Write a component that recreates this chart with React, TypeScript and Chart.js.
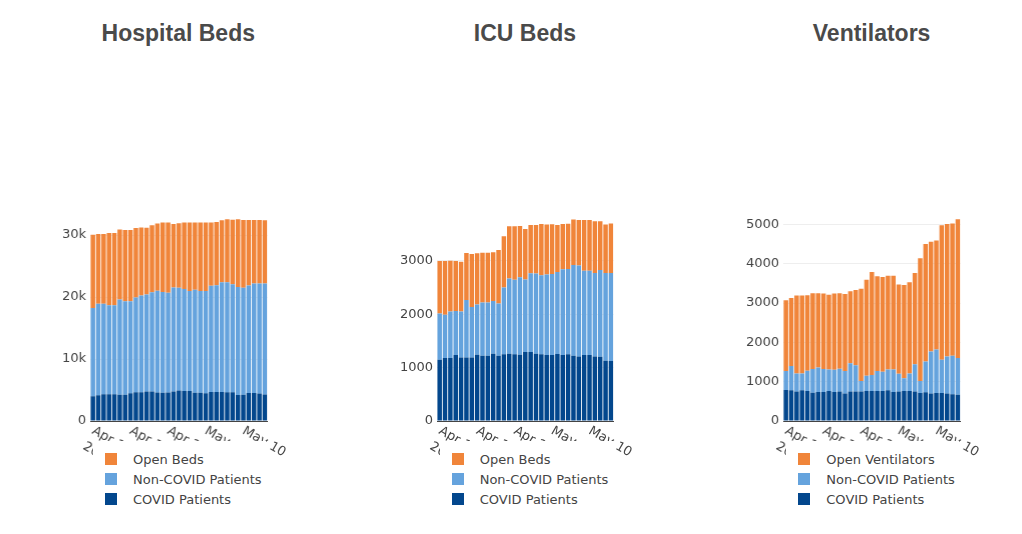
import React, { useEffect, useRef } from "react";
import { Chart, registerables } from "chart.js";

Chart.register(...registerables);

// ---------- data ----------
const dates = [
  "Apr 12", "Apr 13", "Apr 14", "Apr 15", "Apr 16", "Apr 17", "Apr 18", "Apr 19", "Apr 20", "Apr 21", "Apr 22",
  "Apr 23", "Apr 24", "Apr 25", "Apr 26", "Apr 27", "Apr 28", "Apr 29", "Apr 30", "May 1", "May 2", "May 3",
  "May 4", "May 5", "May 6", "May 7", "May 8", "May 9", "May 10", "May 11", "May 12", "May 13", "May 14",
];
const tickDates = ["Apr 12", "Apr 19", "Apr 26", "May 3", "May 10"];
const firstTickYear = "2020";

const hospitalTicks = [0, 10000, 20000, 30000];
const icuTicks = [0, 1000, 2000, 3000];
const ventTicks = [0, 1000, 2000, 3000, 4000, 5000];

const hospitalCovid = [3980, 4140, 4330, 4330, 4330, 4220, 4220, 4480, 4650, 4650, 4760, 4760, 4600, 4560, 4600, 4750, 4920, 4820, 4820, 4570, 4570, 4460, 4680, 4680, 4680, 4620, 4620, 4200, 4250, 4520, 4520, 4430, 4280];
const hospitalNonCovid = [14250, 14760, 14570, 14330, 14330, 15400, 15080, 14820, 15270, 15600, 15640, 16020, 16400, 16240, 16100, 16780, 16560, 16480, 16150, 16610, 16400, 16510, 17120, 17220, 17720, 17780, 17430, 17400, 17230, 17330, 17660, 17750, 17900];
const hospitalOpen = [11820, 11260, 11280, 11660, 11660, 11290, 11510, 11510, 11230, 10950, 10780, 10780, 10860, 11240, 11340, 10270, 10440, 10740, 11070, 10860, 11070, 11070, 10240, 10200, 9970, 10130, 10430, 10930, 10940, 10570, 10240, 10240, 10190];

const icuCovid = [1148, 1180, 1180, 1235, 1190, 1190, 1190, 1240, 1220, 1220, 1260, 1220, 1250, 1260, 1250, 1240, 1290, 1290, 1260, 1250, 1235, 1235, 1255, 1235, 1250, 1220, 1210, 1235, 1235, 1210, 1205, 1130, 1125];
const icuNonCovid = [867, 810, 870, 825, 860, 1075, 945, 940, 1000, 1000, 985, 980, 1250, 1410, 1395, 1450, 1360, 1475, 1500, 1480, 1510, 1520, 1535, 1605, 1595, 1700, 1700, 1580, 1580, 1560, 1625, 1640, 1645];
const icuOpen = [980, 1005, 950, 935, 930, 880, 990, 960, 930, 930, 915, 1000, 960, 975, 1000, 960, 945, 905, 910, 960, 935, 930, 880, 850, 850, 855, 855, 950, 950, 970, 910, 910, 930];

const ventCovid = [790, 780, 750, 780, 760, 720, 740, 740, 760, 740, 750, 700, 750, 750, 750, 760, 760, 760, 760, 780, 740, 750, 760, 760, 750, 710, 730, 700, 710, 710, 700, 680, 670];
const ventNonCovid = [480, 620, 460, 430, 520, 600, 620, 580, 550, 560, 580, 570, 720, 670, 270, 390, 410, 510, 490, 530, 570, 450, 330, 450, 690, 310, 780, 1070, 1110, 850, 940, 980, 930];
const ventOpen = [1800, 1730, 1980, 1980, 1920, 1930, 1890, 1920, 1900, 1940, 1920, 1960, 1830, 1910, 2340, 2440, 2620, 2410, 2410, 2380, 2380, 2270, 2370, 2320, 2320, 3120, 2990, 2790, 2770, 3420, 3370, 3360, 3530];

// ---------- styling ----------
const COLOR_OPEN = "#F0853A";
const COLOR_NONCOVID = "#65A3DD";
const COLOR_COVID = "#03478D";
const TEXT_COLOR = "#444";
const FONT = '"DejaVu Sans", Verdana, sans-serif';

const PLOT_WIDTH = 176.6;
const AXIS_W = 50;
const PAD_RIGHT = 30;
const CANVAS_TOP = 200;
const CANVAS_H = 270;

type PanelProps = {
  title: string;
  openLabel: string;
  covid: number[];
  nonCovid: number[];
  open: number[];
  yMax: number;
  yTicks: number[];
  fmt: (v: number) => string;
  plotLeft: number;
};

const xLabelPlugin = {
  id: "rotatedXLabels",
  afterDraw(chart: any) {
    const xs = chart.scales.x;
    const ctx = chart.ctx;
    ctx.save();
    ctx.font = `13px ${FONT}`;
    ctx.fillStyle = TEXT_COLOR;
    ctx.textAlign = "left";
    ctx.textBaseline = "middle";
    tickDates.forEach((lbl, i) => {
      const idx = dates.indexOf(lbl);
      const x = xs.getPixelForValue(idx);
      const lines = i === 0 ? [lbl, firstTickYear] : [lbl];
      ctx.save();
      ctx.translate(x, chart.chartArea.bottom + 9);
      ctx.rotate(Math.PI / 6);
      lines.forEach((ln, j) => ctx.fillText(ln, 0, j * 18));
      ctx.restore();
    });
    ctx.restore();
  },
};

function Panel(p: PanelProps) {
  const ref = useRef<HTMLCanvasElement | null>(null);
  useEffect(() => {
    if (!ref.current) return;
    const chart = new Chart(ref.current, {
      type: "bar",
      data: {
        labels: dates,
        datasets: [
          { label: "COVID Patients", data: p.covid, backgroundColor: COLOR_COVID, barPercentage: 0.84, categoryPercentage: 1 },
          { label: "Non-COVID Patients", data: p.nonCovid, backgroundColor: COLOR_NONCOVID, barPercentage: 0.84, categoryPercentage: 1 },
          { label: p.openLabel, data: p.open, backgroundColor: COLOR_OPEN, barPercentage: 0.84, categoryPercentage: 1 },
        ],
      },
      options: {
        animation: false,
        responsive: true,
        maintainAspectRatio: false,
        layout: { padding: { top: 9, left: 0, right: PAD_RIGHT, bottom: 0 } },
        plugins: { legend: { display: false }, tooltip: { enabled: false }, title: { display: false } },
        scales: {
          x: {
            stacked: true,
            afterFit: (s: any) => {
              s.height = 49;
              s.paddingLeft = 0;
              s.paddingRight = 0;
            },
            ticks: { display: false },
            grid: { display: false, drawTicks: false },
            border: { display: true, color: "#444", width: 1 },
          },
          y: {
            stacked: true,
            min: 0,
            max: p.yMax,
            afterBuildTicks: (s: any) => {
              s.ticks = p.yTicks.map((v) => ({ value: v }));
            },
            afterFit: (s: any) => {
              s.width = AXIS_W;
              s.paddingTop = 0;
              s.paddingBottom = 0;
            },
            ticks: {
              autoSkip: false,
              padding: 4,
              color: TEXT_COLOR,
              font: { family: FONT, size: 13 },
              callback: (v: any) => p.fmt(Number(v)),
            },
            grid: {
              drawTicks: false,
              color: (c: any) => (c.tick && c.tick.value === 0 ? "rgba(0,0,0,0)" : "#eee"),
              lineWidth: 1,
            },
            border: { display: false },
          },
        },
      },
      plugins: [xLabelPlugin],
    });
    return () => chart.destroy();
  }, []);

  const legendItems = [
    { label: p.openLabel, color: COLOR_OPEN },
    { label: "Non-COVID Patients", color: COLOR_NONCOVID },
    { label: "COVID Patients", color: COLOR_COVID },
  ];

  return (
    <>
      <div
        style={{
          position: "absolute",
          left: p.plotLeft - AXIS_W,
          top: 20,
          width: PLOT_WIDTH + 2 * AXIS_W,
          lineHeight: "26px",
          textAlign: "center",
          fontFamily: '"Liberation Sans", Arial, sans-serif',
          fontWeight: "bold",
          fontSize: 23,
          color: "#4a4a4a",
        }}
      >
        {p.title}
      </div>
      <div
        style={{
          position: "absolute",
          left: p.plotLeft - AXIS_W,
          top: CANVAS_TOP,
          width: PLOT_WIDTH + AXIS_W + PAD_RIGHT,
          height: CANVAS_H,
        }}
      >
        <canvas ref={ref} />
      </div>
      <div
        style={{
          position: "absolute",
          left: p.plotLeft + 3,
          top: 441,
          width: 173,
          height: 70,
          paddingTop: 8,
          boxSizing: "border-box",
          background: "#fff",
          zIndex: 2,
          fontFamily: FONT,
          fontSize: 13,
          color: TEXT_COLOR,
        }}
      >
        {legendItems.map((it) => (
          <div key={it.label} style={{ display: "flex", alignItems: "center", height: 20 }}>
            <span style={{ display: "inline-block", width: 12, height: 12, marginLeft: 12, marginRight: 16, background: it.color }} />
            <span style={{ whiteSpace: "nowrap" }}>{it.label}</span>
          </div>
        ))}
      </div>
    </>
  );
}

export default function App() {
  return (
    <div style={{ position: "absolute", left: 0, top: 0, width: 1022, height: 534, background: "#fff", overflow: "hidden" }}>
      <Panel
        title="Hospital Beds"
        openLabel="Open Beds"
        covid={hospitalCovid}
        nonCovid={hospitalNonCovid}
        open={hospitalOpen}
        yMax={34200}
        yTicks={hospitalTicks}
        fmt={(v) => (v === 0 ? "0" : `${v / 1000}k`)}
        plotLeft={90}
      />
      <Panel
        title="ICU Beds"
        openLabel="Open Beds"
        covid={icuCovid}
        nonCovid={icuNonCovid}
        open={icuOpen}
        yMax={3970}
        yTicks={icuTicks}
        fmt={(v) => String(v)}
        plotLeft={436.7}
      />
      <Panel
        title="Ventilators"
        openLabel="Open Ventilators"
        covid={ventCovid}
        nonCovid={ventNonCovid}
        open={ventOpen}
        yMax={5390}
        yTicks={ventTicks}
        fmt={(v) => String(v)}
        plotLeft={783.3}
      />
    </div>
  );
}
